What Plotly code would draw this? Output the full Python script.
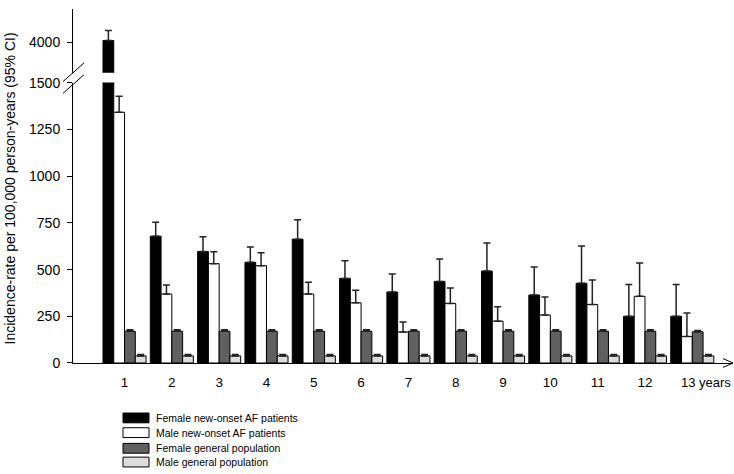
import plotly.graph_objects as go

# ---------------- data ----------------
years = [1, 2, 3, 4, 5, 6, 7, 8, 9, 10, 11, 12, 13]
year_labels = ["1", "2", "3", "4", "5", "6", "7", "8", "9", "10", "11", "12", "13"]
unit_label = "years"

female_af = [4010, 679, 597, 539, 663, 453, 380, 437, 492, 364, 427, 250, 250]
female_af_upper = [4063, 754, 676, 621, 767, 548, 476, 557, 642, 514, 626, 420, 420]
male_af = [1342, 369, 532, 521, 369, 322, 166, 319, 224, 257, 313, 357, 142]
male_af_upper = [1428, 418, 595, 590, 432, 390, 219, 401, 301, 353, 445, 535, 268]
female_gen = [170, 170, 170, 170, 170, 170, 170, 170, 170, 170, 170, 170, 167]
female_gen_upper = [178, 178, 178, 178, 178, 178, 178, 178, 178, 178, 178, 178, 174]
male_gen = [38, 38, 38, 38, 38, 38, 38, 38, 38, 38, 38, 38, 38]
male_gen_upper = [45, 45, 45, 45, 45, 45, 45, 45, 45, 45, 45, 45, 45]

series_names = ["Female new-onset AF patients", "Male new-onset AF patients",
                "Female general population", "Male general population"]
series_colors = ["#000000", "#ffffff", "#606060", "#dcdcdc"]

lower_ticks = [0, 250, 500, 750, 1000, 1250, 1500]
upper_ticks = [4000]
y_title = "Incidence-rate per 100,000 person-years (95% CI)"

# ---------------- figure ----------------
W, H = 734, 474
ML, MR, MT, MB = 73, 1, 2, 111
PW, PH = W - ML - MR, H - MT - MB
FONT = "Arial, Liberation Sans, sans-serif"

def px_x(px):
    return (px - ML) / PW

def px_y(py):
    return (H - MB - py) / PH

series_vals = [female_af, male_af, female_gen, male_gen]
series_up = [female_af_upper, male_af_upper, female_gen_upper, male_gen_upper]

fig = go.Figure()
for axis in ["y", "y2"]:
    for name, col, vals, ups in zip(series_names, series_colors, series_vals, series_up):
        fig.add_trace(go.Bar(
            x=years, y=vals, name=name, yaxis=axis, xaxis="x",
            marker=dict(color=col, line=dict(color="#000000", width=1)),
            error_y=dict(type="data", symmetric=False,
                         array=[u - v for u, v in zip(ups, vals)],
                         arrayminus=[0] * len(vals),
                         color="#222222", thickness=1.5, width=3.5),
            showlegend=False,
        ))

# the last year label is drawn together with the unit as one annotation
tick_text = year_labels[:-1] + [""]

upp = 5.25  # units per pixel (same scale for both segments)
low_top_px = 77
up_bot_px = 67
fig.update_layout(
    width=W, height=H,
    margin=dict(l=ML, r=MR, t=MT, b=MB),
    paper_bgcolor="white", plot_bgcolor="white",
    barmode="group", bargap=0.09, bargroupgap=0.0,
    font=dict(family=FONT, size=13, color="#000000"),
    xaxis=dict(range=[-0.089, 13.86], tickvals=years, ticktext=tick_text,
               showline=True, linecolor="#000000", linewidth=1,
               ticks="outside", ticklen=7, tickcolor="rgba(0,0,0,0)",
               showgrid=False, zeroline=False,
               tickfont=dict(family=FONT, size=13.5, color="#000000")),
    yaxis=dict(domain=[0, px_y(low_top_px)],
               range=[0, (H - MB - low_top_px) * upp],
               tickvals=lower_ticks, showline=True, linecolor="#000000",
               linewidth=1, ticks="outside", ticklen=5, tickcolor="#000000",
               showgrid=False, zeroline=False, ticklabelstandoff=4,
               tickfont=dict(family=FONT, size=14, color="#000000")),
    yaxis2=dict(domain=[px_y(up_bot_px), 1],
                range=[4000 - (up_bot_px - 36) * upp, 4000 + (36 - MT) * upp],
                tickvals=upper_ticks, showline=True, linecolor="#000000",
                linewidth=1, ticks="outside", ticklen=5, tickcolor="#000000",
                showgrid=False, zeroline=False, anchor="x", ticklabelstandoff=4,
                tickfont=dict(family=FONT, size=14, color="#000000")),
)

shapes = []
# axis-break slashes
for (x0, y0, x1, y1) in [(63, 76, 84, 57), (63, 88, 84, 69)]:
    shapes.append(dict(type="line", xref="paper", yref="paper",
                       x0=px_x(x0), y0=px_y(y0), x1=px_x(x1), y1=px_y(y1),
                       line=dict(color="#000000", width=1)))
# arrow head on x axis
shapes.append(dict(type="path", xref="paper", yref="paper",
                   path=f"M {px_x(723)} {px_y(358.5)} L {px_x(733)} {px_y(363)} L {px_x(723)} {px_y(367.5)}",
                   line=dict(color="#000000", width=1)))

annotations = [
    dict(text=y_title, xref="paper", yref="paper", x=px_x(10), y=px_y(185),
         xanchor="center", yanchor="middle", textangle=-90, showarrow=False,
         font=dict(family=FONT, size=14, color="#000000")),
    dict(text=year_labels[-1] + " " + unit_label, xref="paper", yref="paper",
         x=px_x(732), y=px_y(383),
         xanchor="right", yanchor="middle", showarrow=False, borderpad=0,
         font=dict(family=FONT, size=13, color="#000000")),
]

# legend (drawn below the chart)
legend_rows = [419, 434, 450, 464]
for name, col, ry in zip(series_names, series_colors, legend_rows):
    shapes.append(dict(type="rect", xref="paper", yref="paper",
                       x0=px_x(123), x1=px_x(149), y0=px_y(ry - 5), y1=px_y(ry + 5),
                       fillcolor=col, line=dict(color="#000000", width=1)))
    annotations.append(dict(text=name, xref="paper", yref="paper",
                            x=px_x(154), y=px_y(ry), xanchor="left", yanchor="middle",
                            showarrow=False,
                            font=dict(family=FONT, size=10.5, color="#000000")))

fig.update_layout(shapes=shapes, annotations=annotations)
fig.write_html("out.html", config={"displayModeBar": False},
               post_script="document.body.style.margin='0px';")
